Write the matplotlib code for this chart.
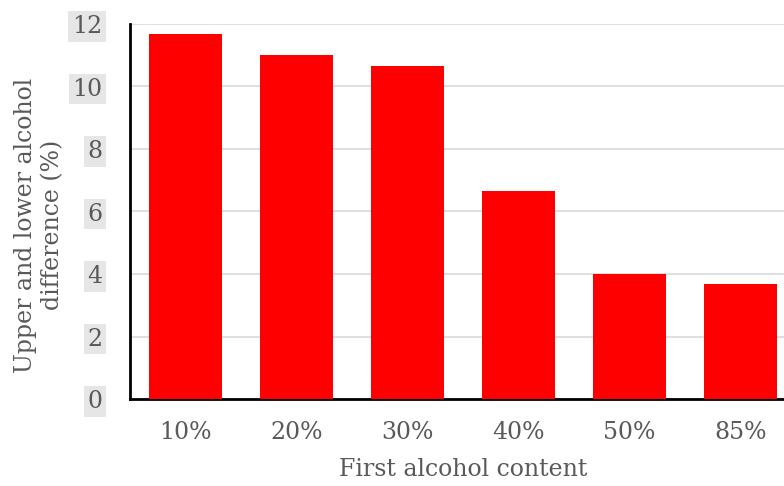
import matplotlib
matplotlib.use("Agg")
import matplotlib.pyplot as plt
import numpy as np

categories = ["10%", "20%", "30%", "40%", "50%", "85%"]
values = [11.67, 11.0, 10.67, 6.67, 4.0, 3.67]
yticks = [0, 2, 4, 6, 8, 10, 12]

TXT = "#595959"
plt.rcParams["font.family"] = ["DejaVu Serif"]

fig = plt.figure(figsize=(7.84, 4.86), dpi=100)
ax = fig.add_axes([130 / 784, 87 / 486, 654 / 784, 375 / 486])

x = np.arange(len(categories))
ax.bar(x, values, 0.66, color="#ff0000", zorder=3)

ax.set_xlim(-0.5, 5.39)
ax.set_ylim(0, 12)
ax.set_yticks(yticks)
ax.set_yticklabels([str(t) for t in yticks])
ax.set_xticks(x)
ax.set_xticklabels(categories)
ax.grid(axis="y", color="#d9d9d9", lw=1.2, zorder=0)
for s in ["top", "right"]:
    ax.spines[s].set_visible(False)
for s in ["left", "bottom"]:
    ax.spines[s].set_linewidth(2)
    ax.spines[s].set_color("black")
ax.tick_params(axis="both", length=0, labelsize=17, labelcolor=TXT)
ax.tick_params(axis="x", pad=16)
ax.tick_params(axis="y", pad=20)
for lab in ax.get_yticklabels():
    lab.set_bbox(dict(boxstyle="square,pad=0.15", fc="#e6e6e6", ec="none"))

fig.text(463 / 784, 1 - 469 / 486, "First alcohol content", ha="center",
         va="center", fontsize=17, color=TXT)
fig.text(39 / 784, 1 - 225 / 486, "Upper and lower alcohol\ndifference (%)",
         ha="center", va="center", rotation=90, fontsize=17, color=TXT,
         linespacing=1.25)

fig.savefig("out.png", dpi=100)
